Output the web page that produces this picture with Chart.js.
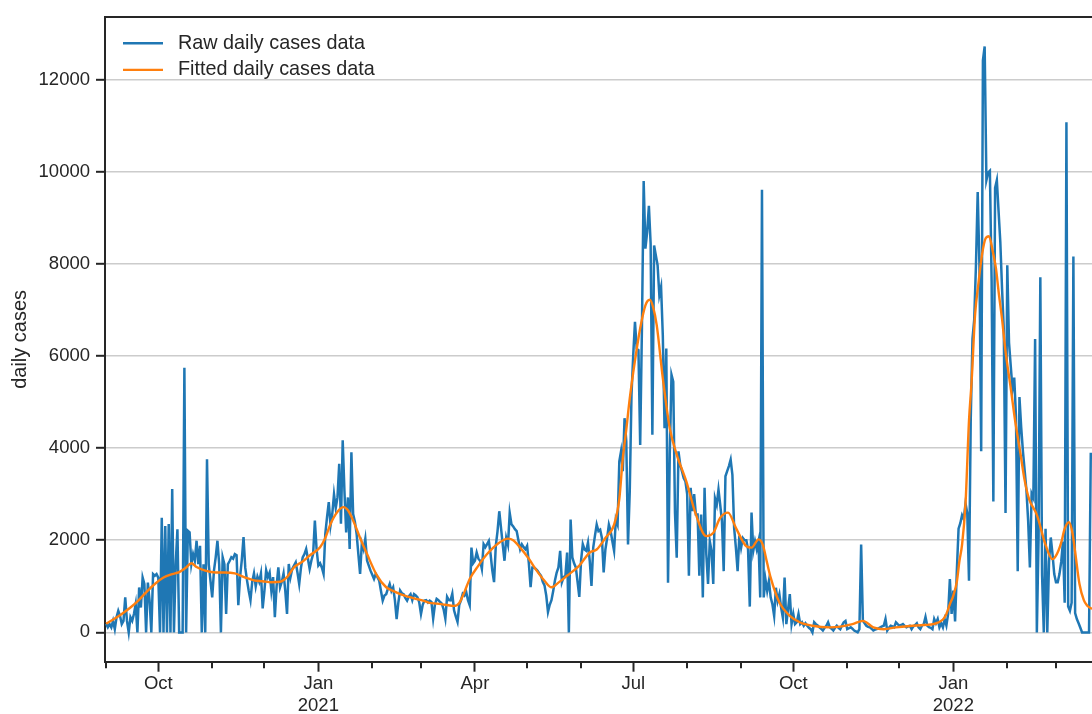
<!DOCTYPE html>
<html>
<head>
<meta charset="utf-8">
<script src="https://cdn.jsdelivr.net/npm/chart.js@4.4.1/dist/chart.umd.min.js"></script>
<style>
  html, body { margin: 0; padding: 0; background: #fff; }
  canvas { display: block; }
</style>
</head>
<body>
<canvas id="chart" width="1092" height="714"></canvas>
<script>
// day 0 of the series
const startDate = '2020-09-01';

// raw daily cases, one value per day from startDate
const rawCases = [
  190, 110, 180, 110, 250, 70, 330, 470, 360, 180,
  250, 760, 250, 0, 330, 250, 400, 615, 0, 975,
  540, 1190, 1050, 0, 1080, 690, 0, 1265, 1230, 1265,
  1190, 0, 2490, 0, 2310, 0, 2350, 0, 3110, 0,
  1480, 2240, 0, 0, 0, 5745, 0, 2205, 2170, 1480,
  1700, 1560, 1990, 1480, 1880, 0, 1480, 0, 3760, 1480,
  1120, 760, 1340, 1630, 1990, 1480, 0, 1630, 1480, 400,
  1480, 1550, 1630, 1600, 1700, 1675, 590, 1200, 1570, 2070,
  1400, 1130, 900, 700, 1100, 1280, 1000, 1210, 1100, 1280,
  520, 900, 1350, 1200, 1300, 900, 1200, 330, 1000, 1410,
  980, 1100, 1280, 900, 400, 1485, 1200, 1380, 1450, 1520,   // Dec 2020
  1300, 1050, 1400, 1630, 1700, 1810, 1600, 1380, 1560, 1700,
  2430, 1800, 1450, 1500, 1410, 1270, 2140, 2500, 2830, 2320, // Jan 2021
  2570, 3000, 2700, 2930, 3660, 2360, 4170, 3070, 2170, 2930,
  1810, 3910, 2570, 2400, 2140, 1700, 1270, 1930, 1800, 2030,
  1560, 1450, 1340, 1250, 1160, 1270, 1200, 1120, 900, 690,
  800, 830, 950, 1050, 900, 980, 700, 290, 650, 910,
  850, 830, 750, 690, 780, 830, 700, 830, 800, 760,
  650, 400, 600, 690, 700, 650, 690, 660, 300, 600,
  730, 700, 660, 625, 500, 300, 770, 700, 695, 840,
  480, 350, 230, 600, 695, 840, 800, 875, 700, 590,
  1840, 1500, 1555, 1735, 1600, 1555, 1380, 1915, 1850, 1915, // Apr 2021
  1985, 1700, 1340, 1090, 1880, 2200, 2630, 2270, 1900, 1555,
  2050, 1900, 2595, 2350, 2300, 2240, 2200, 2000, 1805, 1910,
  1850, 1805, 1880, 1500, 980, 1410, 1410, 1380, 1340, 1280,
  1230, 1100, 1020, 800, 445, 600, 700, 900, 1125, 1300,
  1410, 1770, 1090, 1200, 1230, 1735, 0, 2450, 1630, 1500,
  1410, 1100, 770, 1555, 1915, 1800, 1770, 1950, 1555, 1010,
  1840, 2100, 2340, 2200, 2230, 2050, 1300, 1800, 2050, 2340,
  2200, 1980, 1770, 2450, 2340, 3710, 3930, 3500, 4650, 4150,
  1910, 3060, 5155, 6020, 6740, 6160, 6130, 4070, 6600, 9800, // Jul 2021
  8330, 8690, 9260, 8440, 4290, 8400, 8180, 7970, 7320, 7500,
  6450, 4430, 6160, 1080, 3860, 5590, 5440, 2600, 1620, 3930,
  3640, 3500, 3350, 3280, 3000, 1230, 3140, 2630, 3000, 2560,
  2560, 1230, 2560, 760, 3140, 1700, 1050, 1980, 1770, 1050,
  2910, 2770, 3100, 2770, 2410, 1330, 3390, 3500, 3610, 3750,
  3420, 2270, 1840, 1330, 2100, 1840, 2050, 2000, 2000, 1800,
  560, 2600, 1770, 1980, 1800, 1980, 760, 9610, 760, 1150,
  900, 1120, 760, 610, 360, 970, 680, 830, 540, 320,
  1190, 180, 500, 830, 180, 400, 180, 220, 400, 180,
  220, 145, 200, 145, 100, 70, 0, 220, 180, 150,          // Oct 2021
  110, 80, 40, 100, 145, 220, 110, 80, 40, 100,
  145, 100, 70, 150, 220, 250, 70, 90, 110, 80,
  40, 20, 0, 70, 1910, 250, 200, 145, 120, 110,
  80, 40, 60, 70, 90, 110, 130, 145, 290, 40,
  100, 145, 130, 110, 220, 180, 145, 160, 180, 140,
  110, 130, 145, 70, 130, 160, 200, 110, 70, 150,
  180, 335, 150, 115, 100, 70, 290, 200, 290, 110,
  200, 110, 290, 150, 400, 1160, 400, 910, 240, 1330,      // Jan 2022
  2250, 2370, 2545, 2460, 2800, 2590, 1120, 4620, 6370, 6790,
  7970, 9560, 7970, 3930, 12420, 12720, 9815, 9980, 10020, 7630,
  2840, 9650, 9815, 9140, 8470, 7460, 6570, 2590, 7970, 6290,
  5780, 5280, 5530, 4690, 1330, 5110, 4450, 3930, 3510, 3090,
  2420, 1410, 3010, 2920, 6370, 0, 2080, 7710, 1240, 0,
  2250, 0, 1530, 2060, 1700, 1265, 1090, 1090, 1265, 1530,
  1970, 645, 11075, 560, 470, 645, 8160, 420, 290, 200,
  100, 0, 0, 0, 0, 0, 3900
];

// fitted curve, sampled at these days
const fitDays = [
  0, 5, 9, 14, 18.5, 23, 28, 33, 38, 42, 46, 49, 52, 57, 63, 68, 74, 80, 85, 90,
  95, 100, 104, 108, 113, 117, 123, 126, 129, 133, 136.5, 139, 142, 146, 150, 155.5, 161, 165, 169, 174,
  178.5, 183, 186, 190, 195, 200, 203, 206, 209, 214, 219, 225, 231, 234, 238, 243, 247.5, 252, 256, 260,
  265, 272, 278, 282, 287, 292, 295, 297, 299, 301, 304, 307, 310, 312.5, 314.5, 316.5, 320, 324, 328, 333.5,
  339, 345, 349, 353, 357.5, 362, 368, 371, 375, 377.5, 380, 382, 387, 393, 399, 406, 416, 422, 429, 435,
  441, 447, 454, 462, 470, 476, 481, 483, 485, 487, 489, 490.5, 492, 494, 496, 497.5, 499.5, 501.5, 503.5, 505.5,
  507.5, 509.5, 511.5, 513, 515, 517, 520, 522.5, 525.5, 528, 530.5, 535, 540, 544, 546.5, 549, 551, 553.5, 555.5, 557,
  559.5, 562, 564, 566.7
];
const fitCases = [
  190, 300, 400, 540, 690, 870, 1050, 1190, 1265, 1310, 1410, 1500, 1420, 1340, 1300, 1300, 1280, 1190, 1130, 1110,
  1090, 1100, 1200, 1410, 1540, 1670, 1850, 2050, 2355, 2620, 2720, 2650, 2430, 2050, 1700, 1250, 980, 900, 830, 770,
  725, 680, 640, 625, 600, 575, 640, 880, 1160, 1450, 1700, 1920, 2035, 2000, 1840, 1600, 1340, 1120, 980, 1080,
  1230, 1450, 1735, 1800, 2050, 2340, 2900, 3780, 4400, 5080, 5900, 6600, 7100, 7220, 7050, 6670, 5520, 4430, 3860, 3280,
  2560, 2090, 2160, 2490, 2600, 2270, 1870, 1840, 2020, 1900, 1500, 1190, 650, 360, 215, 145, 110, 125, 180, 250,
  110, 70, 110, 140, 160, 185, 280, 400, 610, 800, 1100, 1550, 1900, 2800, 4600, 5445, 6900, 7600, 8200, 8550,
  8600, 8300, 7900, 7400, 6800, 6100, 5300, 4600, 3900, 3300, 2900, 2550, 1900, 1590, 1700, 1950, 2250, 2390, 2150, 1750,
  1050, 700, 580, 510
];

const yTicks = [0, 2000, 4000, 6000, 8000, 10000, 12000];
const majorTickDates = ['2020-10-01', '2021-01-01', '2021-04-01', '2021-07-01', '2021-10-01', '2022-01-01'];
const majorTickLabels = [['Oct'], ['Jan', '2021'], ['Apr'], ['Jul'], ['Oct'], ['Jan', '2022']];
const minorTickDates = ['2020-09-01', '2020-11-01', '2020-12-01', '2021-02-01', '2021-03-01', '2021-05-01',
  '2021-06-01', '2021-08-01', '2021-09-01', '2021-11-01', '2021-12-01', '2022-02-01', '2022-03-01'];
const xRange = [-0.63, 566.7];
const yRange = [-636, 13356];

const ink = '#262626';
const dayOf = s => (Date.parse(s) - Date.parse(startDate)) / 86400000;
const majorDays = majorTickDates.map(dayOf);
const minorDays = minorTickDates.map(dayOf);

Chart.defaults.font.family = "'Liberation Sans', Arial, sans-serif";
Chart.defaults.color = ink;

// monthly minor ticks under the x axis
const minorTicks = {
  id: 'minorTicks',
  afterDraw(chart) {
    const { ctx, chartArea, scales: { x } } = chart;
    ctx.save();
    ctx.strokeStyle = ink; ctx.lineWidth = 2;
    minorDays.forEach(d => {
      if (d < x.min || d > x.max) return;
      const px = Math.round(x.getPixelForValue(d));
      ctx.beginPath(); ctx.moveTo(px, chartArea.bottom); ctx.lineTo(px, chartArea.bottom + 6.5); ctx.stroke();
    });
    // top spine
    ctx.beginPath(); ctx.moveTo(chartArea.left, chartArea.top); ctx.lineTo(chartArea.right, chartArea.top); ctx.stroke();
    ctx.restore();
  }
};

// legend inside the plot, top left, no frame
const innerLegend = {
  id: 'innerLegend',
  afterDraw(chart) {
    const { ctx, chartArea } = chart;
    ctx.save();
    ctx.font = "19.8px 'Liberation Sans', Arial, sans-serif";
    ctx.textBaseline = 'middle';
    chart.data.datasets.slice().sort((a, b) => b.order - a.order).forEach((ds, i) => {
      const y = chartArea.top + 26.2 + i * 26.6;
      ctx.strokeStyle = ds.borderColor; ctx.lineWidth = 2.4;
      ctx.beginPath(); ctx.moveTo(chartArea.left + 18, y); ctx.lineTo(chartArea.left + 58, y); ctx.stroke();
      ctx.fillStyle = ink;
      ctx.fillText(ds.label, chartArea.left + 73, y);
    });
    ctx.restore();
  }
};

new Chart(document.getElementById('chart'), {
  type: 'line',
  data: {
    datasets: [
      {
        label: 'Raw daily cases data',
        data: rawCases.map((v, i) => ({ x: i, y: v })),
        borderColor: '#1f77b4', borderWidth: 2.5,
        pointRadius: 0, tension: 0, order: 2
      },
      {
        label: 'Fitted daily cases data',
        data: fitDays.map((d, i) => ({ x: d, y: fitCases[i] })),
        borderColor: '#ff7f0e', borderWidth: 2.4,
        pointRadius: 0, cubicInterpolationMode: 'monotone', order: 1
      }
    ]
  },
  options: {
    responsive: false, animation: false, devicePixelRatio: 1,
    layout: { padding: { top: 15, right: 0, bottom: 0, left: 0 } },
    plugins: { legend: { display: false }, tooltip: { enabled: false } },
    scales: {
      x: {
        type: 'linear', min: xRange[0], max: xRange[1],
        afterBuildTicks: s => { s.ticks = majorDays.map(v => ({ value: v })); },
        afterFit: s => { s.height = 52.3; },
        grid: { drawOnChartArea: false, drawTicks: true, tickLength: 10, tickColor: ink, tickWidth: 2 },
        border: { display: true, color: ink, width: 2 },
        ticks: { color: ink, font: { size: 18.5 }, padding: 1, maxRotation: 0, autoSkip: false,
          callback: (v, i) => majorTickLabels[i] }
      },
      y: {
        min: yRange[0], max: yRange[1],
        afterBuildTicks: s => { s.ticks = yTicks.map(v => ({ value: v })); },
        afterFit: s => { s.width = 105; },
        grid: { color: '#cccccc', lineWidth: 1.6, tickColor: ink, tickWidth: 2, tickLength: 9 },
        border: { display: true, color: ink, width: 2 },
        ticks: { color: ink, font: { size: 18.5 }, padding: 6, callback: v => String(v) },
        title: { display: true, text: 'daily cases', color: ink, font: { size: 20 }, padding: { top: 8, bottom: 0 } }
      }
    }
  },
  plugins: [minorTicks, innerLegend]
});
</script>
</body>
</html>
